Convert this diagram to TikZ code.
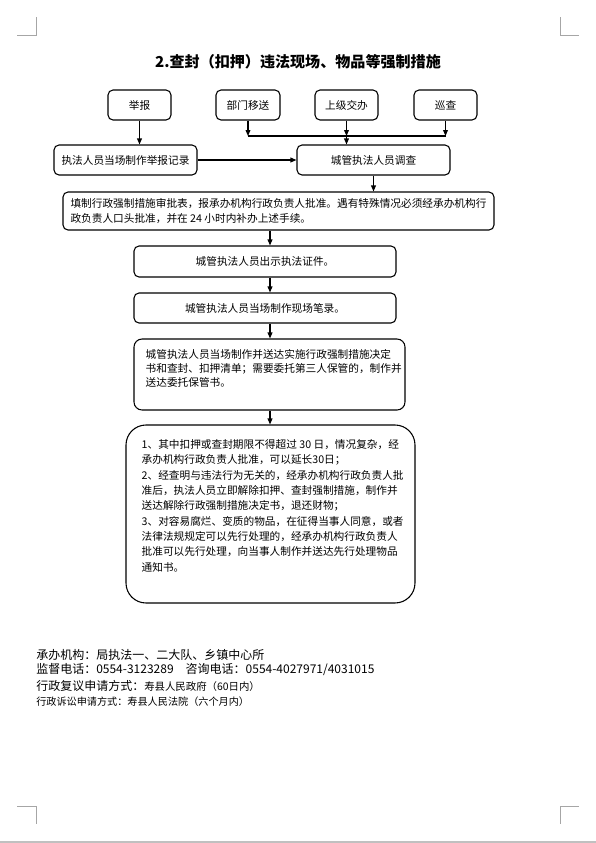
\documentclass[tikz,border=0pt]{standalone}
\usepackage{fontspec}
\setmainfont{Noto Sans CJK SC}
\usepackage{xcolor}
\usepackage{tikz}
\usetikzlibrary{arrows.meta,positioning}

\definecolor{cropgray}{HTML}{A6A6A6}
\definecolor{edgegray}{HTML}{C0C0C0}

\begin{document}
\begin{tikzpicture}[
      x=0.75pt, y=-0.75pt,
      font=\fontsize{8pt}{10.5pt}\selectfont,
      box/.style={draw, line width=0.8pt, rounded corners=3.75pt, minimum height=22.5pt, align=center, inner sep=0pt},
      bigbox/.style={draw, line width=0.8pt, minimum width=0pt, inner sep=0pt},
      txt/.style={align=left, inner sep=0pt, anchor=north west},
      foot/.style={anchor=west, inner sep=0pt, font=\fontsize{9pt}{11pt}\selectfont},
      arr/.style={-{Triangle[length=4.5pt,width=3.6pt]}, line width=0.8pt},
      cropmark/.style={draw=cropgray, line width=0.6pt},
    ]
    \useasboundingbox (0,0) rectangle (596,843);
    % page corner marks
    \draw [cropmark] (17,35) -- (36,35) -- (36,17);
    \draw [cropmark] (579,35) -- (560,35) -- (560,17);
    \draw [cropmark] (17,806) -- (36,806) -- (36,824);
    \draw [cropmark] (579,806) -- (560,806) -- (560,824);
    \fill [edgegray] (0,841) rectangle (596,843);

    % title
    \node (title) [font=\fontsize{11.3pt}{13pt}\selectfont\bfseries] at (298,62) {2.查封（扣押）违法现场、物品等强制措施};

    % sources (top row)
    \node (report) [box, minimum width=47.25pt] at (139.5,105) {举报};
    \node (transfer) [box, minimum width=48pt] at (248,105) {部门移送};
    \node (assign) [box, minimum width=47.25pt] at (346.5,105) {上级交办};
    \node (patrol) [box, minimum width=47.25pt] at (445.5,105) {巡查};
    \coordinate (bar) at (0,136);
    \coordinate (spine) at (270,0);

    % second row
    \node (record) [box, minimum width=107.25pt] at (125.5,160) {执法人员当场制作举报记录};
    \node (survey) [box, minimum width=114.75pt] at (373.5,160) {城管执法人员调查};
    \draw [arr] (report.south) -- (report.south |- record.north);
    \draw [arr] (transfer.south) -- (transfer.south |- bar);
    \draw [arr] (assign.south) -- (assign.south |- bar);
    \draw [arr] (patrol.south) -- (patrol.south |- bar);
    \draw [line width=0.8pt] (transfer.south |- bar) -- (patrol.south |- bar);
    \draw [arr] (assign.south |- bar) -- (assign.south |- survey.north);
    \draw [arr] (record.east) -- (survey.west);

    % main steps
    \node (approve) [box, minimum width=323.25pt, minimum height=28.5pt, align=left, font=\fontsize{8pt}{11.25pt}\selectfont] at (278.5,211)
      {填制行政强制措施审批表，报承办机构行政负责人批准。遇有特殊情况必须经承办机构行\\政负责人口头批准，并在 24 小时内补办上述手续。};
    \node (show) [box, minimum width=196.5pt, minimum height=23.25pt] at (265,261.5) {城管执法人员出示执法证件。};
    \node (scene) [box, minimum width=196.5pt] at (265,308) {城管执法人员当场制作现场笔录。};
    \node (decide) [bigbox, rounded corners=6pt, minimum width=203.25pt, minimum height=53.25pt] at (269.5,374.5) {};
    \node (decidetext) [txt] at ([xshift=9pt,yshift=-8pt]decide.north west)
      {城管执法人员当场制作并送达实施行政强制措施决定\\书和查封、扣押清单；需要委托第三人保管的，制作并\\送达委托保管书。};
    \node (notes) [bigbox, rounded corners=15pt, minimum width=216.75pt, minimum height=133.5pt] at (270.5,514) {};
    \node (notestext) [txt, font=\fontsize{8pt}{11.5pt}\selectfont] at ([xshift=12pt,yshift=-11pt]notes.north west)
      {1、其中扣押或查封期限不得超过 30 日，情况复杂，经\\
       承办机构行政负责人批准，可以延长30日；\\
       2、经查明与违法行为无关的，经承办机构行政负责人批\\
       准后，执法人员立即解除扣押、查封强制措施，制作并\\
       送达解除行政强制措施决定书，退还财物；\\
       3、对容易腐烂、变质的物品，在征得当事人同意，或者\\
       法律法规规定可以先行处理的，经承办机构行政负责人\\
       批准可以先行处理，向当事人制作并送达先行处理物品\\
       通知书。};
    \draw [arr] (survey.south) -- (survey.south |- approve.north);
    \draw [arr] (approve.south -| spine) -- (show.north -| spine);
    \draw [arr] (show.south -| spine) -- (scene.north -| spine);
    \draw [arr] (scene.south -| spine) -- (decide.north -| spine);
    \draw [arr] (decide.south -| spine) -- (notes.north -| spine);

    % footer
    \node (org) [foot] at (36,655) {承办机构：局执法一、二大队、乡镇中心所};
    \node (phone) [foot] at (36,670) {监督电话：0554-3123289\quad 咨询电话：0554-4027971/4031015};
    \node (review) [foot] at (36,686) {行政复议申请方式：{\fontsize{7.8pt}{9pt}\selectfont 寿县人民政府（60日内）}};
    \node (suit) [foot, font=\fontsize{7.6pt}{9pt}\selectfont] at (36,702) {行政诉讼申请方式：寿县人民法院（六个月内）};
  \end{tikzpicture}
\end{document}
